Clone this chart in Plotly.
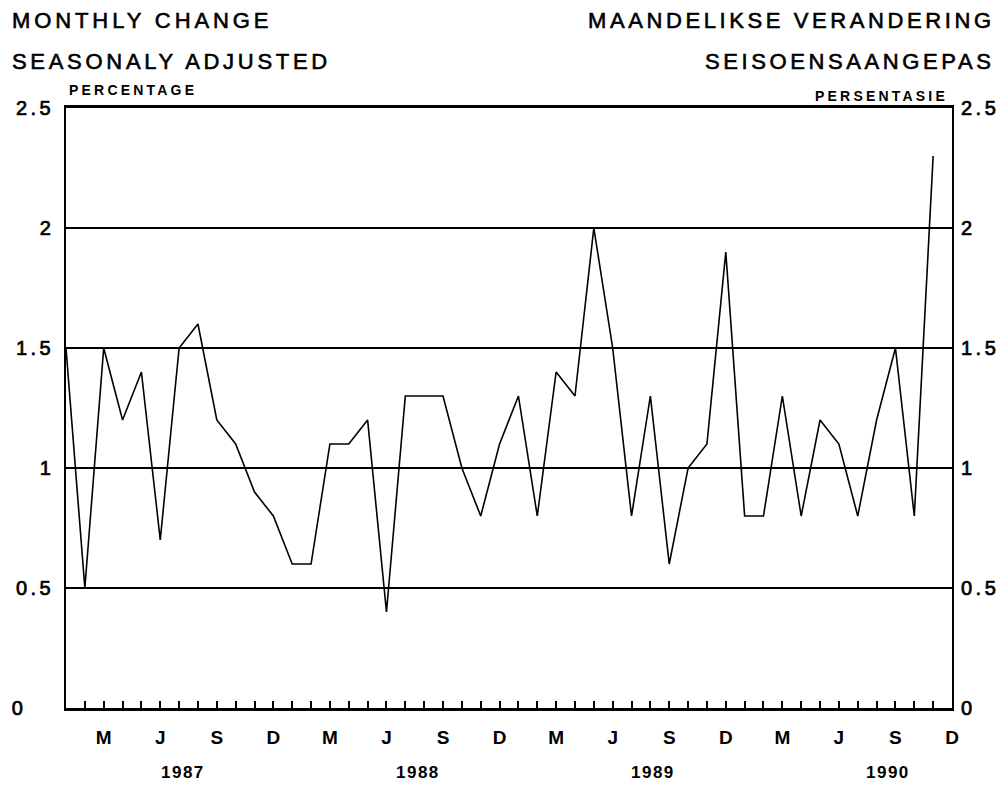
import plotly.graph_objects as go

# ---- data (monthly, Jan 1987 .. Nov 1990) ----
month_index = list(range(47))
monthly_change = [
    1.5, 0.5, 1.5, 1.2, 1.4, 0.7, 1.5, 1.6, 1.2, 1.1, 0.9, 0.8,   # 1987
    0.6, 0.6, 1.1, 1.1, 1.2, 0.4, 1.3, 1.3, 1.3, 1.0, 0.8, 1.1,   # 1988
    1.3, 0.8, 1.4, 1.3, 2.0, 1.5, 0.8, 1.3, 0.6, 1.0, 1.1, 1.9,   # 1989
    0.8, 0.8, 1.3, 0.8, 1.2, 1.1, 0.8, 1.2, 1.5, 0.8, 2.3,        # 1990
]
quarter_ticks = list(range(2, 48, 3))          # Mar, Jun, Sep, Dec
quarter_labels = ["M", "J", "S", "D"] * 4
year_labels = ["1987", "1988", "1989", "1990"]
y_ticks = [0, 0.5, 1, 1.5, 2, 2.5]
y_labels = ["0", "0.5", "1", "1.5", "2", "2.5"]

FONT = "Liberation Sans, Arial, Helvetica, sans-serif"


def spaced(text, ls, stroke=0.0):
    st = f"letter-spacing:{ls}px"
    if stroke:
        st += f";stroke:black;stroke-width:{stroke}px"
    return f'<span style="{st}">{text}</span>'


left_ticktext = [spaced(t, 3.5, 0.7) for t in y_labels]
left_ticktext[0] = spaced("0", 3.5, 0.7) + "\u00a0" * 5
right_ticktext = [spaced(t, 3.5, 0.7) for t in y_labels]

fig = go.Figure()
fig.add_trace(go.Scatter(
    x=month_index, y=monthly_change, mode="lines",
    line=dict(color="black", width=1.6), showlegend=False, hoverinfo="skip",
))
# invisible copy so the right-hand axis is drawn
fig.add_trace(go.Scatter(
    x=month_index, y=monthly_change, mode="lines", yaxis="y2",
    line=dict(color="rgba(0,0,0,0)", width=0), showlegend=False, hoverinfo="skip",
))

# page body has an 8px default margin, so the figure is 8px smaller
fig.update_layout(
    width=998, height=783,
    margin=dict(l=58, r=54, t=100, b=83),
    paper_bgcolor="white", plot_bgcolor="white",
    font=dict(family=FONT, color="black"),
    xaxis=dict(
        range=[0, 47], showgrid=False, zeroline=False, automargin=False,
        showline=True, linecolor="black", linewidth=2.5, mirror=True,
        tickmode="array", tickvals=quarter_ticks, ticktext=quarter_labels,
        ticks="inside", ticklen=7, tickwidth=1.5, tickcolor="black",
        minor=dict(dtick=1, tick0=0, ticks="inside", ticklen=7,
                   tickwidth=1.5, tickcolor="black", showgrid=False),
        tickfont=dict(family=FONT, size=19, color="black", weight="bold"),
        ticklabelstandoff=10,
    ),
    yaxis=dict(
        range=[0, 2.5], tickmode="array", tickvals=y_ticks, ticktext=left_ticktext,
        showgrid=True, gridcolor="black", gridwidth=2, zeroline=False, automargin=False,
        showline=True, linecolor="black", linewidth=1.5, mirror=True,
        ticks="", tickfont=dict(family=FONT, size=20, color="black"),
        ticklabelstandoff=6,
    ),
    yaxis2=dict(
        range=[0, 2.5], overlaying="y", side="right", anchor="x", automargin=False,
        tickmode="array", tickvals=y_ticks, ticktext=right_ticktext,
        showgrid=False, zeroline=False, showline=False, ticks="",
        tickfont=dict(family=FONT, size=20, color="black"),
        ticklabelstandoff=8,
    ),
)

title_font = dict(family=FONT, size=22, color="black")
small_font = dict(family=FONT, size=14, color="black", weight="bold")
annos = [
    dict(text=spaced("MONTHLY CHANGE", 3.9, 0.6), x=-0.0632, xanchor="left", y=1.145, font=title_font),
    dict(text=spaced("SEASONALY ADJUSTED", 3.7, 0.6), x=-0.0632, xanchor="left", y=1.078, font=title_font),
    dict(text=spaced("PERCENTAGE", 3.2), x=0.001, xanchor="left", y=1.03, font=small_font),
    dict(text=spaced("MAANDELIKSE VERANDERING", 3.6, 0.6), x=1.0508, xanchor="right", y=1.145, font=title_font),
    dict(text=spaced("SEISOENSAANGEPAS", 3.6, 0.6), x=1.0508, xanchor="right", y=1.078, font=title_font),
    dict(text=spaced("PERSENTASIE", 3.2), x=0.998, xanchor="right", y=1.02, font=small_font),
]
for a in annos:
    fig.add_annotation(xref="paper", yref="paper", yanchor="middle",
                       showarrow=False, **a)

for i, yr in enumerate(year_labels):
    fig.add_annotation(
        x=6.2 + 12.47 * i, xref="x", y=-0.108, yref="paper",
        text=spaced(yr, 1.5), showarrow=False, xanchor="center", yanchor="middle",
        font=dict(family=FONT, size=17, color="black", weight="bold"),
    )

fig.write_html("out.html")
